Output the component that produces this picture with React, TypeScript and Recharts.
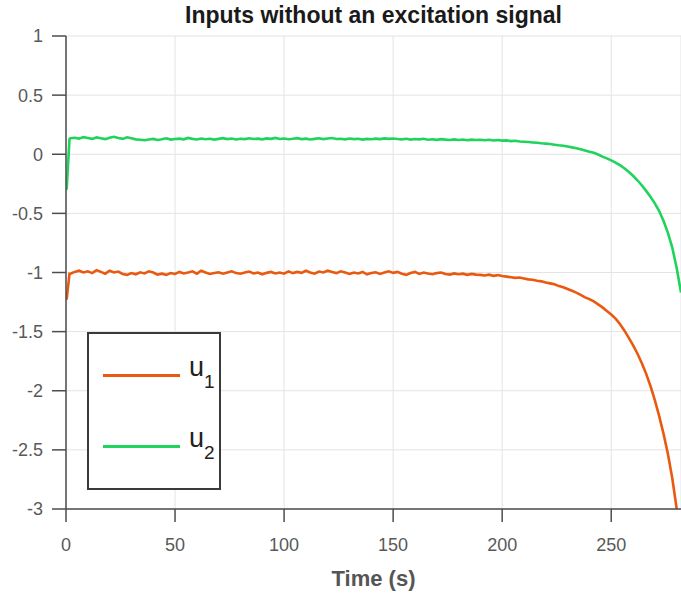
import React from 'react';
import { LineChart, Line, XAxis, YAxis, CartesianGrid, Legend, Label } from 'recharts';

const times = [
  0.3, 1.6, 2, 4, 6, 8, 10, 12, 14, 16, 18, 20, 22, 24, 26, 28, 30, 32, 34, 36, 38, 40,
  42, 44, 46, 48, 50, 52, 54, 56, 58, 60, 62, 64, 66, 68, 70, 72, 74, 76, 78, 80,
  82, 84, 86, 88, 90, 92, 94, 96, 98, 100, 102, 104, 106, 108, 110, 112, 114, 116, 118, 120,
  122, 124, 126, 128, 130, 132, 134, 136, 138, 140, 142, 144, 146, 148, 150, 152, 154, 156, 158, 160,
  162, 164, 166, 168, 170, 172, 174, 176, 178, 180, 182, 184, 186, 188, 190, 192, 194, 196, 198, 200,
  202, 204, 206, 208, 210, 212, 214, 216, 218, 220, 222, 224, 226, 228, 230, 232, 234, 236, 238, 240,
  242, 244, 246, 248, 250, 252, 254, 256, 258, 260, 262, 264, 266, 268, 270, 272, 274, 276, 278, 280, 282,
];

const u1 = [
  -1.23, -1.01, -1.01, -0.995, -0.985, -1.0, -0.99, -1.005, -0.98, -0.995, -1.01, -0.985, -1.0, -0.992, -1.012, -1.02, -1.005, -1.015, -0.998, -1.008, -0.99, -1.0,
  -1.018, -1.01, -1.02, -1.005, -1.012, -0.995, -1.008, -1.0, -0.99, -1.01, -0.985, -1.0, -1.012, -1.005, -0.998, -1.01, -1.0, -0.99, -1.005, -1.01,
  -1.0, -0.992, -1.008, -1.0, -1.015, -1.003, -0.995, -1.008, -1.0, -1.01, -0.99, -1.005, -0.995, -1.003, -0.985, -1.0, -1.01, -0.992, -1.0, -0.985,
  -0.995, -1.005, -0.99, -1.0, -1.012, -1.0, -1.008, -0.995, -1.015, -1.005, -0.998, -1.012, -1.0, -0.99, -1.003, -0.995, -1.01, -1.02, -1.005, -0.995,
  -1.012, -1.0, -1.008, -1.015, -1.005, -1.0, -1.012, -1.018, -1.008, -1.015, -1.01, -1.02, -1.012, -1.018, -1.02, -1.025, -1.018, -1.028, -1.022, -1.03,
  -1.035, -1.04, -1.045, -1.042, -1.05, -1.058, -1.062, -1.07, -1.075, -1.085, -1.092, -1.1, -1.115, -1.125, -1.14, -1.155, -1.17, -1.19, -1.21, -1.225,
  -1.245, -1.27, -1.295, -1.325, -1.355, -1.39, -1.435, -1.49, -1.55, -1.615, -1.685, -1.765, -1.855, -1.96, -2.08, -2.215, -2.365, -2.535, -2.74, -2.995, -3.3,
];

const u2 = [
  -0.3, 0.128, 0.135, 0.14, 0.132, 0.145, 0.138, 0.13, 0.142, 0.135, 0.128, 0.14, 0.148, 0.137, 0.13, 0.143, 0.136, 0.126, 0.122, 0.118, 0.125, 0.13,
  0.121, 0.127, 0.135, 0.124, 0.129, 0.132, 0.126, 0.138, 0.13, 0.125, 0.133, 0.127, 0.131, 0.124, 0.13, 0.136, 0.128, 0.133, 0.125, 0.131,
  0.128, 0.135, 0.129, 0.132, 0.126, 0.134, 0.13, 0.138, 0.129, 0.133, 0.127, 0.131, 0.136, 0.128, 0.132, 0.125, 0.13, 0.135, 0.128, 0.133,
  0.137, 0.129, 0.131, 0.126, 0.133, 0.128, 0.131, 0.124, 0.13, 0.127, 0.132, 0.128, 0.134, 0.13, 0.133, 0.129, 0.126, 0.131, 0.124, 0.129,
  0.126, 0.131, 0.123, 0.127, 0.122, 0.128, 0.124, 0.12, 0.126, 0.121, 0.125, 0.119, 0.124, 0.121, 0.123, 0.119, 0.122, 0.116, 0.12, 0.115,
  0.117, 0.111, 0.114, 0.108, 0.106, 0.103, 0.1, 0.097, 0.093, 0.09, 0.086, 0.081, 0.076, 0.072, 0.065, 0.058, 0.05, 0.042, 0.032, 0.022,
  0.012, -0.002, -0.02, -0.035, -0.052, -0.07, -0.092, -0.118, -0.148, -0.182, -0.22, -0.262, -0.31, -0.36, -0.415, -0.48, -0.565, -0.665, -0.79, -0.96, -1.17,
];

const xTicks = [0, 50, 100, 150, 200, 250];
const yTicks = [-3, -2.5, -2, -1.5, -1, -0.5, 0, 0.5, 1];
const seriesNames = ['1', '2'];
const titleText = 'Inputs without an excitation signal';
const xLabel = 'Time (s)';

const data = times.map((t, i) => ({ t, u1: u1[i], u2: u2[i] }));

const FONT = '"Liberation Sans", Arial, Helvetica, sans-serif';
const ORANGE = '#E9590F';
const GREEN = '#1FD35C';
const AXIS = '#4d4d4d';

const LegendBox = (props: any) => {
  const payload = props.payload || [];
  return (
    <div
      style={{
        width: 134,
        height: 158,
        boxSizing: 'border-box',
        border: `2px solid #3a3a3a`,
        background: '#fff',
        position: 'relative',
        fontFamily: FONT,
      }}
    >
      {payload.map((p: any, i: number) => (
        <div key={i} style={{ position: 'absolute', left: 14, top: 26 + i * 71, height: 40, width: 120 }}>
          <div style={{ position: 'absolute', left: 0, top: 14, width: 77, height: 3, background: p.color }} />
          <div style={{ position: 'absolute', left: 86, top: -8, fontSize: 27, color: '#222', lineHeight: '30px', whiteSpace: 'nowrap' }}>
            u<span style={{ fontSize: 19, position: 'relative', top: 12 }}>{seriesNames[i]}</span>
          </div>
        </div>
      ))}
    </div>
  );
};

export default function App() {
  return (
    <div style={{ position: 'absolute', left: 0, top: 0, width: 681, height: 596, overflow: 'hidden', background: '#fff' }}>
      <div
        style={{
          position: 'absolute',
          left: 66,
          top: 2,
          width: 615,
          textAlign: 'center',
          fontFamily: FONT,
          fontWeight: 'bold',
          fontSize: 23,
          color: '#1a1a1a',
          zIndex: 2,
        }}
      >
        {titleText}
      </div>
      <LineChart width={681} height={596} data={data} margin={{ top: 36, right: 0, bottom: 0, left: 0 }}>
        <CartesianGrid stroke="#e3e3e3" strokeWidth={1} />
        <XAxis
          dataKey="t"
          type="number"
          domain={[0, 282]}
          ticks={xTicks}
          allowDataOverflow
          height={87}
          stroke={AXIS}
          strokeWidth={1.5}
          tickSize={13}
          tickMargin={16}
          tick={{ fill: '#595959', fontSize: 18, fontFamily: FONT }}
          tickLine={{ stroke: AXIS, strokeWidth: 1.5 }}
        >
          <Label value={xLabel} position="insideBottom" offset={10} style={{ fill: '#555', fontSize: 22, fontWeight: 'bold', fontFamily: FONT }} />
        </XAxis>
        <YAxis
          type="number"
          domain={[-3, 1]}
          ticks={yTicks}
          allowDataOverflow
          width={66}
          stroke={AXIS}
          strokeWidth={1.5}
          tickSize={14}
          tickMargin={9}
          interval={0}
          tick={{ fill: '#595959', fontSize: 18, fontFamily: FONT }}
          tickLine={{ stroke: AXIS, strokeWidth: 1.5 }}
        />
        <Legend
          layout="horizontal"
          verticalAlign="middle"
          align="center"
          content={<LegendBox />}
          wrapperStyle={{ position: 'absolute', left: 87, top: 332, width: 134, height: 158, bottom: 'auto', right: 'auto' }}
        />
        <Line type="linear" dataKey="u1" name="u1" stroke={ORANGE} strokeWidth={2.6} dot={false} isAnimationActive={false} />
        <Line type="linear" dataKey="u2" name="u2" stroke={GREEN} strokeWidth={2.6} dot={false} isAnimationActive={false} />
      </LineChart>
    </div>
  );
}
